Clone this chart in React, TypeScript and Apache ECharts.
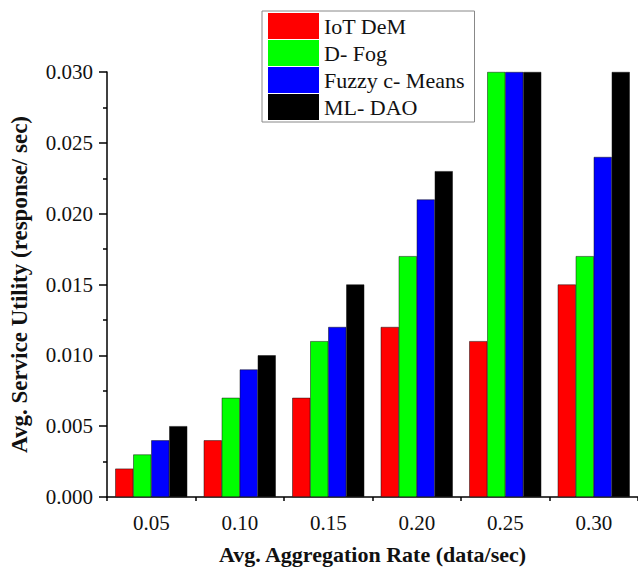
import React, { useEffect, useRef } from "react";
import * as echarts from "echarts";

const categories = ["0.05", "0.10", "0.15", "0.20", "0.25", "0.30"];
const seriesNames = ["IoT DeM", "D- Fog", "Fuzzy c- Means", "ML- DAO"];
const iotDem = [0.002, 0.004, 0.007, 0.012, 0.011, 0.015];
const dFog = [0.003, 0.007, 0.011, 0.017, 0.030, 0.017];
const fuzzy = [0.004, 0.009, 0.012, 0.021, 0.030, 0.024];
const mlDao = [0.005, 0.010, 0.015, 0.023, 0.030, 0.030];
const colors = ["#ff0000", "#00ff00", "#0000ff", "#000000"];

const FONT = "'Liberation Serif', 'Times New Roman', serif";

export default function App() {
  const ref = useRef<HTMLDivElement>(null);
  useEffect(() => {
    document.body.style.margin = "0";
    if (!ref.current) return;
    const chart = echarts.init(ref.current, null, { renderer: "svg" });
    const values = [iotDem, dFog, fuzzy, mlDao];
    chart.setOption({
      animation: false,
      backgroundColor: "#ffffff",
      textStyle: { fontFamily: FONT },
      grid: { left: 105, right: 0, top: 72, bottom: 78 },
      legend: {
        orient: "vertical",
        left: 262,
        top: 11,
        padding: [2, 10, 2, 6],
        itemWidth: 51,
        itemHeight: 26,
        itemGap: 1,
        icon: "rect",
        borderColor: "#888",
        borderWidth: 1,
        backgroundColor: "#fff",
        itemStyle: { borderWidth: 0 },
        textStyle: { fontFamily: FONT, fontSize: 22, color: "#111" },
        data: seriesNames,
      },
      xAxis: [
        {
          type: "category",
          data: categories,
          position: "bottom",
          boundaryGap: true,
          name: "Avg. Aggregation Rate (data/sec)",
          nameLocation: "middle",
          nameGap: 46,
          nameTextStyle: { fontFamily: FONT, fontSize: 22, fontWeight: "bold", color: "#111" },
          axisLine: { lineStyle: { color: "#000", width: 1.5 } },
          axisTick: { alignWithLabel: true, length: 8, lineStyle: { color: "#000", width: 1.5 } },
          axisLabel: { fontFamily: FONT, fontSize: 21, color: "#111", margin: 15 },
        },
        {
          type: "category",
          data: categories,
          position: "bottom",
          boundaryGap: true,
          axisLine: { show: false },
          axisTick: { show: true, length: 4, lineStyle: { color: "#000", width: 1.5 } },
          axisLabel: { show: false },
        },
      ],
      yAxis: {
        type: "value",
        min: 0,
        max: 0.03,
        interval: 0.005,
        name: "Avg. Service Utility (response/ sec)",
        nameLocation: "middle",
        nameGap: 76,
        nameTextStyle: { fontFamily: FONT, fontSize: 23, fontWeight: "bold", color: "#111" },
        axisLine: { show: true, lineStyle: { color: "#000", width: 1.5 } },
        axisTick: { show: true, length: 8, lineStyle: { color: "#000", width: 1.5 } },
        minorTick: { show: true, splitNumber: 2, length: 4, lineStyle: { color: "#000", width: 1.5 } },
        splitLine: { show: false },
        axisLabel: {
          fontFamily: FONT,
          fontSize: 21,
          color: "#111",
          margin: 14,
          formatter: (v: number) => v.toFixed(3),
        },
      },
      series: seriesNames.map((name, i) => ({
        name,
        type: "bar",
        xAxisIndex: 0,
        data: values[i],
        barWidth: 18,
        barGap: "0%",
        itemStyle: { color: colors[i], borderColor: "#111", borderWidth: 0.5 },
      })),
    });
    return () => chart.dispose();
  }, []);
  return <div ref={ref} style={{ width: 638, height: 575 }} />;
}
